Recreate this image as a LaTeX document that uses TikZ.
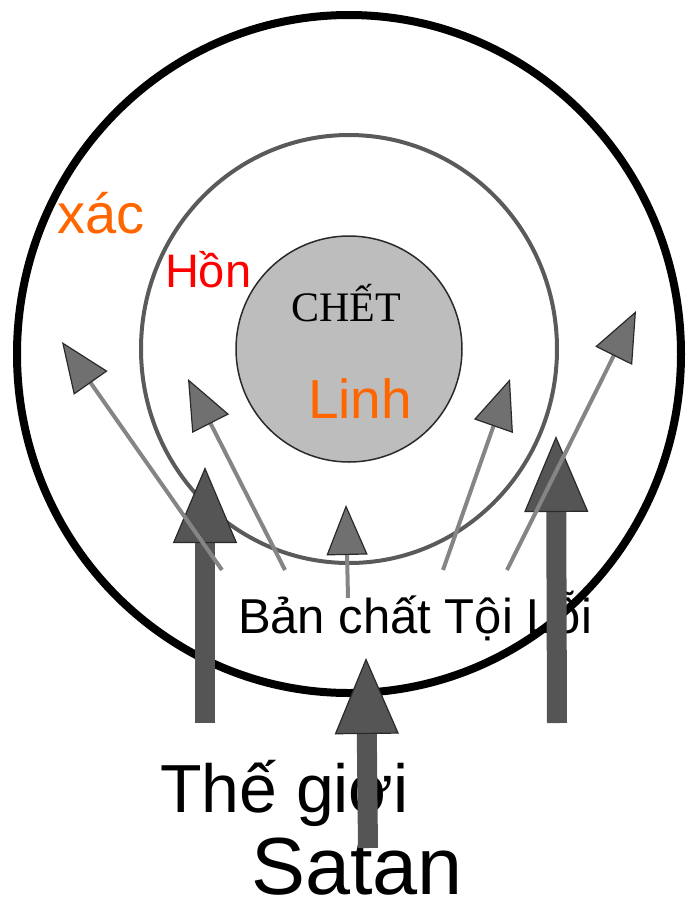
\documentclass[tikz,border=0pt]{standalone}
\usepackage{fontspec}
\setmainfont{Liberation Sans}
\newfontfamily\serifcap{Liberation Serif}
\usetikzlibrary{arrows.meta}
\definecolor{ringgray}{HTML}{5A5A5A}
\definecolor{corefill}{HTML}{BDBDBD}
\definecolor{bigfill}{HTML}{555555}
\definecolor{thinline}{HTML}{858585}
\definecolor{thinhead}{HTML}{707070}
\definecolor{edgedark}{HTML}{2A2A2A}
\definecolor{orangetxt}{HTML}{FF6600}
\definecolor{redtxt}{HTML}{FF0000}
\tikzset{
  bigarrow/.style={draw=bigfill, line width=20pt,
    -{Triangle[length=76pt,width=64pt,line width=1.2pt,color=edgedark,fill=bigfill]}},
  thinarrow/.style={draw=thinline, line width=4pt,
    -{Triangle[length=50pt,width=41pt,line width=1.2pt,color=edgedark,fill=thinhead]}},
  lbl/.style={anchor=base west, inner sep=0pt, outer sep=0pt}
}
\begin{document}
\begin{tikzpicture}[x=1pt,y=-1pt]
\useasboundingbox (0,0) rectangle (692,906);
% rings
\draw[line width=8pt, black] (349,354) ellipse [x radius=332, y radius=339];
\draw[line width=4pt, ringgray] (349,349) ellipse [x radius=208, y radius=214];
\node[circle, draw=edgedark, line width=1.5pt, fill=corefill, minimum size=226pt, inner sep=0pt] (core) at (349,349) {};
% labels
\node[lbl, text=orangetxt, font=\fontsize{56}{60}\selectfont] (xac) at (57,233) {xác};
\node[lbl, text=redtxt, font=\fontsize{47}{52}\selectfont] (hon) at (165,287) {Hồn};
\node[lbl, text=black, font=\serifcap\fontsize{42}{46}\selectfont] (chet) at (291,321) {CHẾT};
\node[lbl, text=orangetxt, font=\fontsize{55}{60}\selectfont] (linh) at (308,418) {Linh};
\node[lbl, text=black, font=\fontsize{49}{54}\selectfont] (sin) at (238,633) {Bản chất Tội Lỗi};
\node[lbl, text=black, font=\fontsize{68}{72}\selectfont] (world) at (160,812) {Thế giới};
\node[lbl, text=black, font=\fontsize{81}{86}\selectfont] (satan) at (251,894) {Satan};
% big arrows
\coordinate (bl0) at (205,723); \coordinate (bl1) at (205,467);
\coordinate (br0) at (557,723); \coordinate (br1) at (556,436);
\coordinate (bm0) at (368,848); \coordinate (bm1) at (366,658);
\draw[bigarrow] (bl0) -- (bl1);
\draw[bigarrow] (br0) -- (br1);
\draw[bigarrow] (bm0) -- (bm1);
% thin arrows
\coordinate (t1a) at (222,570); \coordinate (t1b) at (62,342);
\coordinate (t2a) at (285,570); \coordinate (t2b) at (188,379);
\coordinate (t3a) at (348,598); \coordinate (t3b) at (346,505);
\coordinate (t4a) at (443,570); \coordinate (t4b) at (510,379);
\coordinate (t5a) at (507,570); \coordinate (t5b) at (636,311);
\draw[thinarrow] (t1a) -- (t1b);
\draw[thinarrow] (t2a) -- (t2b);
\draw[thinarrow] (t3a) -- (t3b);
\draw[thinarrow] (t4a) -- (t4b);
\draw[thinarrow] (t5a) -- (t5b);
\end{tikzpicture}
\end{document}
